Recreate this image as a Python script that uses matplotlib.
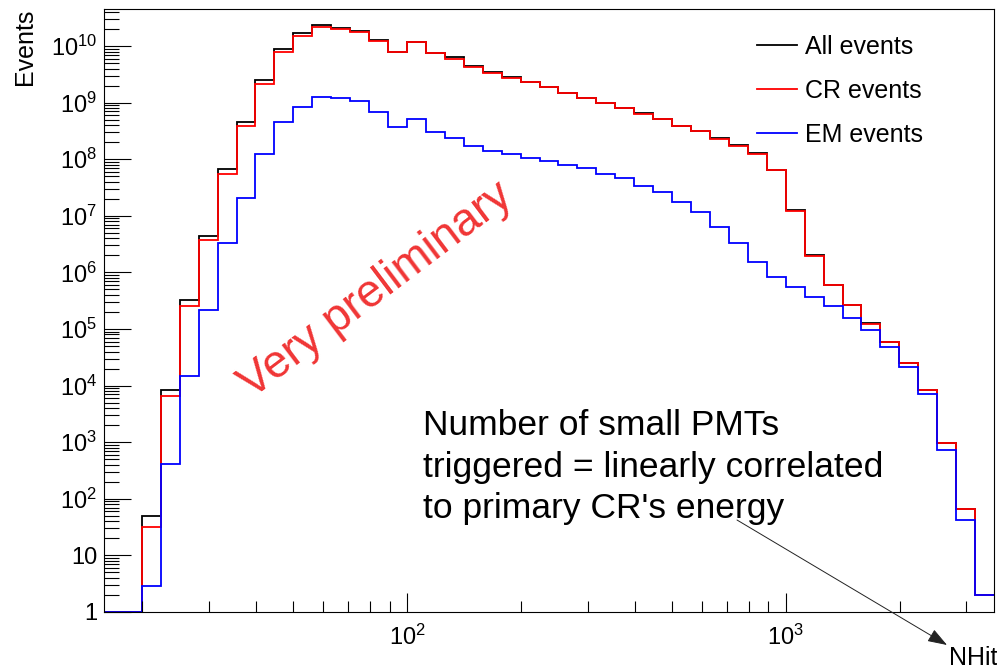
import matplotlib.pyplot as plt
import matplotlib.ticker as mticker
import numpy as np

plt.rcParams['font.family'] = 'Liberation Sans'
plt.rcParams['mathtext.fontset'] = 'custom'
plt.rcParams['mathtext.rm'] = 'Liberation Sans'
plt.rcParams['mathtext.it'] = 'Liberation Sans:italic'
plt.rcParams['mathtext.bf'] = 'Liberation Sans:bold'

# NHit binning: 20 logarithmic bins per decade, 10^1.2 .. 10^3.55
nhit_edges = np.logspace(1.2, 3.55, 48)

# Counts per NHit bin (first two bins are empty)
all_events = [0, 0,
              50, 8.3e3, 3.2e5, 4.4e6, 6.6e7, 4.5e8, 2.5e9, 8.9e9, 1.67e10, 2.35e10,
              2.06e10, 1.87e10, 1.28e10, 7.9e9, 1.16e10, 7.4e9, 6.3e9, 4.5e9, 3.5e9, 2.8e9,
              2.34e9, 1.86e9, 1.46e9, 1.23e9, 9.7e8, 8.1e8, 6.5e8, 5.2e8, 3.9e8, 3.15e8,
              2.4e8, 1.78e8, 1.30e8, 6.4e7, 1.26e7, 2.03e6, 6.0e5, 2.65e5, 1.29e5, 5.8e4,
              2.54e4, 8.4e3, 980, 65, 2]
cr_events = [0, 0,
             32, 6.5e3, 2.5e5, 3.7e6, 5.5e7, 3.8e8, 2.13e9, 7.9e9, 1.50e10, 2.14e10,
             1.97e10, 1.79e10, 1.24e10, 7.7e9, 1.16e10, 7.4e9, 6.0e9, 4.3e9, 3.4e9, 2.7e9,
             2.34e9, 1.86e9, 1.46e9, 1.19e9, 9.7e8, 8.1e8, 6.2e8, 5.2e8, 3.9e8, 3.15e8,
             2.24e8, 1.71e8, 1.24e8, 6.4e7, 1.22e7, 1.95e6, 6.0e5, 2.65e5, 1.22e5, 5.8e4,
             2.54e4, 8.4e3, 980, 65, 2]
em_events = [0, 0,
             2.9, 410, 1.5e4, 2.2e5, 3.3e6, 2.1e7, 1.24e8, 4.5e8, 8.5e8, 1.27e9,
             1.19e9, 1.08e9, 6.9e8, 3.75e8, 5.1e8, 3.06e8, 2.4e8, 1.71e8, 1.40e8, 1.24e8,
             1.04e8, 9.3e7, 7.9e7, 6.9e7, 5.5e7, 4.6e7, 3.3e7, 2.6e7, 1.78e7, 1.15e7,
             6.3e6, 3.27e6, 1.51e6, 8.4e5, 5.6e5, 3.7e5, 2.55e5, 1.55e5, 9.6e4, 4.9e4,
             2.1e4, 7.0e3, 730, 42, 2]

series = [(all_events, '#000000', 'All events'),
          (cr_events, '#ff0000', 'CR events'),
          (em_events, '#0000ff', 'EM events')]

y_min, y_max = 1, 10 ** 10.654

fig = plt.figure(figsize=(9.97, 6.69), dpi=100)
ax = fig.add_axes([104 / 997, 57 / 669, 890 / 997, 603 / 669])

for counts, color, label in series:
    # empty bins are drawn along the bottom of the frame
    ax.stairs(np.clip(counts, y_min, None), nhit_edges, baseline=None,
              color=color, lw=1.3, label=label)

ax.set_xscale('log')
ax.set_yscale('log')
ax.set_xlim(nhit_edges[0], nhit_edges[-1])
ax.set_ylim(y_min, y_max)

ax.xaxis.set_major_locator(mticker.FixedLocator([100, 1000]))
ax.xaxis.set_major_formatter(mticker.FixedFormatter([r'$10^{2}$', r'$10^{3}$']))
ax.xaxis.set_minor_locator(mticker.LogLocator(base=10, subs=np.arange(2, 10), numticks=20))
ax.xaxis.set_minor_formatter(mticker.NullFormatter())

y_major = [10.0 ** i for i in range(11)]
y_labels = ['1', '10'] + [r'$10^{%d}$' % i for i in range(2, 11)]
ax.yaxis.set_major_locator(mticker.FixedLocator(y_major))
ax.yaxis.set_major_formatter(mticker.FixedFormatter(y_labels))
ax.yaxis.set_minor_locator(mticker.LogLocator(base=10, subs=np.arange(2, 10), numticks=20))
ax.yaxis.set_minor_formatter(mticker.NullFormatter())

ax.tick_params(which='both', direction='in', top=False, right=False, width=0.8,
               labelsize=17, color='black')
ax.tick_params(axis='y', which='major', length=19.5, pad=5)
ax.tick_params(axis='y', which='minor', length=10.8)
ax.tick_params(axis='x', which='major', length=13.7, pad=9)
ax.tick_params(axis='x', which='minor', length=7.9)
for spine in ax.spines.values():
    spine.set_linewidth(0.8)

ax.set_ylabel('Events', loc='top', fontsize=18)
ax.yaxis.set_label_coords(-0.0753, 1.0)
ax.set_xlabel('NHit', loc='right', fontsize=18)
ax.xaxis.set_label_coords(1.0034, -0.056)

ax.legend(loc='upper left', bbox_to_anchor=(757 / 997, 1 - 35 / 669),
          bbox_transform=fig.transFigure, frameon=False, fontsize=18,
          borderpad=0, borderaxespad=0, handlelength=1.6, handletextpad=0.3,
          labelspacing=0.8)

fig.text(376 / 997, 1 - 290 / 669, 'Very preliminary', color='#f03535', fontsize=33,
         rotation=37, ha='center', va='center', rotation_mode='anchor')

fig.text(423 / 997, 1 - 409 / 669,
         "Number of small PMTs\ntriggered = linearly correlated\nto primary CR's energy",
         fontsize=25.5, ha='left', va='top', linespacing=1.33)

ax.annotate('', xy=(947 / 997, 1 - 645 / 669), xycoords='figure fraction',
            xytext=(737 / 997, 1 - 520 / 669), textcoords='figure fraction',
            arrowprops=dict(arrowstyle='-|>,head_length=1.0,head_width=0.35',
                            mutation_scale=12, lw=0.7, color='#222222',
                            shrinkA=0, shrinkB=0),
            annotation_clip=False)

fig.savefig('out.png', dpi=100)
